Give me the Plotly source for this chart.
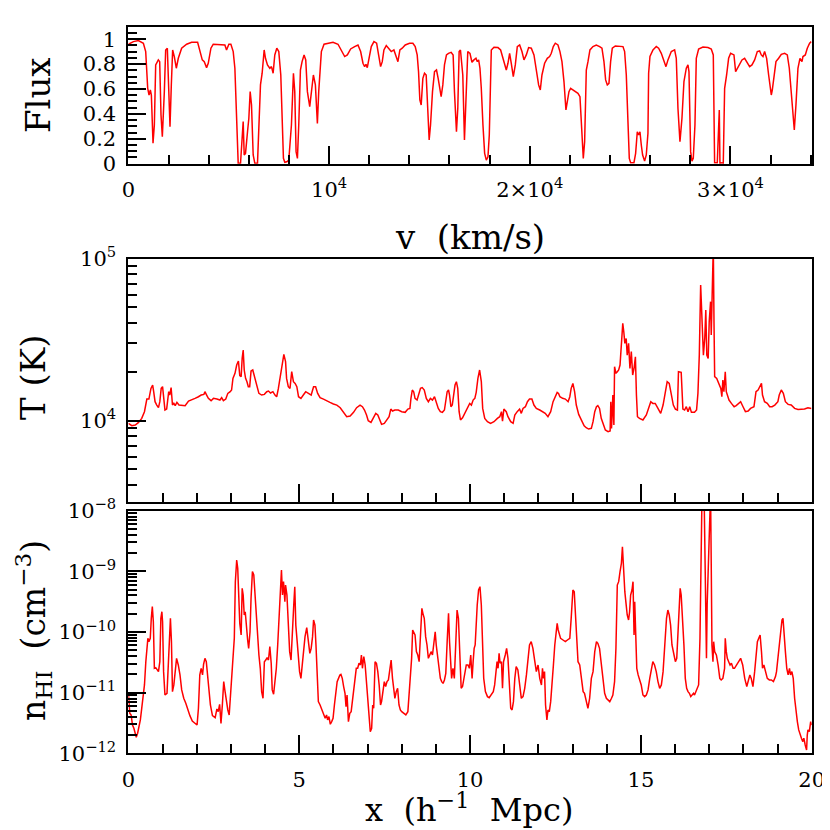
import plotly.graph_objects as go

# ---------------- data: transmitted flux vs velocity ----------------
V_KMS = [
    0, 83, 249, 497, 746, 862, 962, 1028, 1094, 1144,
    1227, 1293, 1360, 1492, 1559, 1625, 1691, 1791, 1857, 1940,
    1990, 2073, 2139, 2205, 2288, 2388, 2487, 2653, 2902, 3150,
    3449, 3565, 3681, 3780, 3896, 3979, 4112, 4228, 4477, 4676,
    4808, 4891, 5007, 5107, 5223, 5306, 5389, 5471, 5587, 5670,
    5720, 5770, 5836, 5936, 6002, 6068, 6135, 6218, 6300, 6433,
    6499, 6582, 6665, 6765, 6831, 6930, 7047, 7129, 7212, 7295,
    7395, 7494, 7594, 7660, 7726, 7793, 7892, 7992, 8124, 8224,
    8290, 8356, 8423, 8489, 8572, 8655, 8754, 8837, 8920, 9036,
    9119, 9218, 9318, 9417, 9484, 9616, 9749, 9948, 10197, 10445,
    10611, 10777, 10910, 11075, 11274, 11440, 11573, 11689, 11772, 11838,
    11904, 12004, 12103, 12236, 12369, 12468, 12568, 12651, 12733, 12850,
    12966, 13098, 13231, 13347, 13430, 13529, 13645, 13795, 14010, 14176,
    14292, 14391, 14458, 14524, 14590, 14673, 14756, 14839, 14905, 14988,
    15055, 15154, 15254, 15353, 15436, 15502, 15585, 15668, 15751, 15850,
    15950, 16083, 16182, 16248, 16348, 16414, 16481, 16547, 16663, 16746,
    16829, 16912, 17021, 17120, 17220, 17320, 17386, 17453, 17519, 17585,
    17668, 17752, 17835, 17918, 17984, 18034, 18084, 18217, 18416, 18549,
    18615, 18715, 18831, 18914, 18997, 19080, 19180, 19280, 19379, 19496,
    19612, 19712, 19828, 19944, 20077, 20210, 20326, 20442, 20525, 20608,
    20741, 20874, 20990, 21074, 21173, 21273, 21406, 21505, 21605, 21705,
    21804, 21871, 21954, 22037, 22153, 22270, 22402, 22502, 22568, 22618,
    22668, 22735, 22818, 22901, 23000, 23150, 23316, 23482, 23598, 23698,
    23781, 23864, 23947, 24030, 24113, 24263, 24479, 24645, 24728, 24811,
    24894, 24960, 25027, 25193, 25276, 25359, 25425, 25492, 25558, 25625,
    25724, 25807, 25890, 25924, 25990, 26140, 26306, 26422, 26555, 26688,
    26788, 26887, 27053, 27219, 27302, 27385, 27485, 27585, 27684, 27801,
    27884, 27934, 28017, 28083, 28149, 28232, 28299, 28415, 28631, 28880,
    29046, 29146, 29179, 29212, 29345, 29412, 29445, 29478, 29578, 29644,
    29711, 29810, 29910, 30010, 30176, 30259, 30342, 30458, 30575, 30707,
    30840, 30957, 31073, 31206, 31339, 31455, 31538, 31621, 31704, 31804,
    31904, 31970, 32036, 32086, 32169, 32269, 32402, 32535, 32701, 32834,
    32934, 33033, 33116, 33183, 33265, 33365, 33465, 33565, 33614, 33731,
    33830, 33947, 34030,
]
FLUX = [
    0.960, 0.968, 0.981, 0.989, 0.968, 0.901, 0.606, 0.552, 0.592, 0.552,
    0.164, 0.311, 0.794, 0.834, 0.820, 0.391, 0.217, 0.579, 0.914, 0.928,
    0.713, 0.298, 0.633, 0.914, 0.861, 0.767, 0.847, 0.928, 0.960, 0.976,
    0.976, 0.901, 0.834, 0.820, 0.772, 0.807, 0.928, 0.960, 0.960, 0.954,
    0.954, 0.914, 0.960, 0.960, 0.901, 0.767, 0.445, 0.003, 0.003, 0.231,
    0.338, 0.070, 0.083, 0.257, 0.365, 0.579, 0.472, 0.070, 0.003, 0.003,
    0.311, 0.633, 0.727, 0.914, 0.847, 0.794, 0.767, 0.780, 0.727, 0.874,
    0.928, 0.901, 0.713, 0.445, 0.043, 0.011, 0.016, 0.029, 0.311, 0.727,
    0.579, 0.097, 0.043, 0.311, 0.753, 0.820, 0.874, 0.834, 0.579, 0.458,
    0.579, 0.713, 0.633, 0.324, 0.579, 0.901, 0.960, 0.968, 0.976, 0.960,
    0.914, 0.861, 0.874, 0.922, 0.941, 0.954, 0.901, 0.807, 0.780, 0.799,
    0.772, 0.847, 0.941, 0.981, 0.968, 0.874, 0.780, 0.820, 0.914, 0.949,
    0.928, 0.901, 0.914, 0.847, 0.820, 0.914, 0.928, 0.954, 0.968, 0.968,
    0.941, 0.874, 0.740, 0.512, 0.472, 0.686, 0.727, 0.713, 0.418, 0.190,
    0.311, 0.579, 0.740, 0.753, 0.686, 0.633, 0.539, 0.633, 0.794, 0.874,
    0.887, 0.895, 0.874, 0.579, 0.257, 0.445, 0.901, 0.914, 0.713, 0.190,
    0.499, 0.901, 0.887, 0.815, 0.834, 0.847, 0.820, 0.834, 0.767, 0.606,
    0.311, 0.083, 0.029, 0.056, 0.231, 0.713, 0.914, 0.936, 0.933, 0.914,
    0.874, 0.820, 0.753, 0.807, 0.887, 0.807, 0.700, 0.794, 0.941, 0.954,
    0.901, 0.834, 0.874, 0.933, 0.928, 0.874, 0.767, 0.633, 0.592, 0.713,
    0.807, 0.847, 0.861, 0.887, 0.941, 0.968, 0.954, 0.901, 0.820, 0.660,
    0.432, 0.485, 0.579, 0.606, 0.592, 0.579, 0.566, 0.539, 0.311, 0.097,
    0.043, 0.177, 0.753, 0.820, 0.914, 0.941, 0.954, 0.941, 0.928, 0.820,
    0.673, 0.633, 0.646, 0.820, 0.928, 0.946, 0.946, 0.941, 0.901, 0.713,
    0.338, 0.043, 0.008, 0.008, 0.083, 0.257, 0.231, 0.257, 0.150, 0.070,
    0.021, 0.070, 0.244, 0.727, 0.861, 0.914, 0.941, 0.928, 0.887, 0.820,
    0.780, 0.834, 0.901, 0.914, 0.847, 0.445, 0.177, 0.365, 0.660, 0.767,
    0.794, 0.740, 0.097, 0.021, 0.043, 0.311, 0.847, 0.922, 0.938, 0.933,
    0.922, 0.874, 0.445, 0.008, 0.008, 0.311, 0.432, 0.003, 0.008, 0.003,
    0.606, 0.713, 0.847, 0.887, 0.874, 0.740, 0.767, 0.807, 0.834, 0.847,
    0.807, 0.780, 0.794, 0.834, 0.901, 0.906, 0.874, 0.861, 0.901, 0.847,
    0.713, 0.606, 0.552, 0.592, 0.713, 0.820, 0.847, 0.879, 0.887, 0.874,
    0.767, 0.579, 0.391, 0.271, 0.472, 0.767, 0.847, 0.820, 0.861, 0.874,
    0.928, 0.968, 0.981,
]

# ---------------- data: temperature vs comoving position ----------------
X_T = [
    0.00, 0.10, 0.20, 0.29, 0.39, 0.47, 0.54, 0.60, 0.66, 0.71,
    0.74, 0.78, 0.83, 0.88, 0.92, 0.96, 1.00, 1.04, 1.07, 1.12,
    1.15, 1.18, 1.21, 1.25, 1.29, 1.33, 1.37, 1.42, 1.48, 1.56,
    1.66, 1.76, 1.85, 1.95, 2.05, 2.13, 2.21, 2.24, 2.29, 2.34,
    2.42, 2.49, 2.59, 2.68, 2.73, 2.78, 2.85, 2.91, 2.98, 3.02,
    3.06, 3.12, 3.17, 3.22, 3.26, 3.30, 3.33, 3.36, 3.39, 3.43,
    3.47, 3.51, 3.55, 3.59, 3.64, 3.69, 3.74, 3.79, 3.82, 3.90,
    3.98, 4.05, 4.10, 4.16, 4.23, 4.29, 4.34, 4.39, 4.44, 4.49,
    4.55, 4.60, 4.63, 4.68, 4.73, 4.78, 4.83, 4.88, 4.93, 4.98,
    5.05, 5.12, 5.19, 5.27, 5.35, 5.42, 5.48, 5.54, 5.61, 5.71,
    5.80, 5.90, 6.00, 6.10, 6.20, 6.29, 6.39, 6.49, 6.59, 6.68,
    6.78, 6.85, 6.91, 6.97, 7.02, 7.10, 7.17, 7.24, 7.30, 7.35,
    7.41, 7.49, 7.56, 7.63, 7.68, 7.73, 7.80, 7.90, 8.00, 8.10,
    8.18, 8.24, 8.27, 8.31, 8.35, 8.39, 8.45, 8.50, 8.55, 8.60,
    8.66, 8.72, 8.78, 8.84, 8.90, 8.96, 9.01, 9.07, 9.13, 9.19,
    9.25, 9.29, 9.33, 9.37, 9.40, 9.44, 9.48, 9.52, 9.56, 9.60,
    9.64, 9.68, 9.72, 9.78, 9.83, 9.90, 9.95, 9.99, 10.04, 10.09,
    10.14, 10.18, 10.23, 10.28, 10.33, 10.37, 10.43, 10.51, 10.60, 10.70,
    10.80, 10.87, 10.92, 10.95, 10.99, 11.06, 11.11, 11.19, 11.26, 11.31,
    11.38, 11.45, 11.50, 11.55, 11.62, 11.68, 11.74, 11.81, 11.87, 11.94,
    12.04, 12.14, 12.20, 12.28, 12.36, 12.43, 12.50, 12.55, 12.59, 12.63,
    12.71, 12.79, 12.87, 12.92, 12.96, 13.01, 13.06, 13.11, 13.18, 13.26,
    13.34, 13.40, 13.47, 13.55, 13.60, 13.65, 13.70, 13.74, 13.79, 13.84,
    13.90, 13.96, 14.04, 14.10, 14.12, 14.14, 14.15, 14.18, 14.21, 14.23,
    14.27, 14.31, 14.35, 14.39, 14.43, 14.47, 14.50, 14.53, 14.57, 14.60,
    14.64, 14.68, 14.72, 14.76, 14.80, 14.84, 14.87, 14.90, 14.96, 15.06,
    15.16, 15.23, 15.29, 15.35, 15.42, 15.50, 15.58, 15.65, 15.72, 15.77,
    15.83, 15.89, 15.95, 16.01, 16.07, 16.10, 16.15, 16.18, 16.23, 16.28,
    16.33, 16.38, 16.43, 16.48, 16.57, 16.63, 16.67, 16.71, 16.75, 16.79,
    16.83, 16.87, 16.90, 16.93, 16.97, 17.00, 17.04, 17.06, 17.09, 17.12,
    17.14, 17.16, 17.22, 17.28, 17.34, 17.37, 17.40, 17.43, 17.47, 17.50,
    17.53, 17.58, 17.65, 17.73, 17.79, 17.86, 17.92, 17.99, 18.06, 18.14,
    18.21, 18.31, 18.37, 18.43, 18.49, 18.53, 18.56, 18.62, 18.70, 18.77,
    18.84, 18.92, 19.01, 19.05, 19.11, 19.17, 19.23, 19.31, 19.40, 19.50,
    19.60, 19.70, 19.79, 19.89, 19.99,
]
T_K = [
    9630, 9310, 9400, 9720, 10340, 11370, 13600, 13600, 15830, 16600,
    15100, 13100, 12490, 12030, 13100, 15830, 16220, 13100, 11640, 11800,
    13100, 15100, 14400, 16000, 12490, 12790, 12380, 12970, 12490, 12490,
    12380, 13230, 13410, 13740, 14060, 14400, 14540, 15100, 14400, 13740,
    13290, 13740, 13600, 13410, 13870, 13290, 13600, 14750, 15100, 15470,
    18250, 19590, 22060, 23350, 18960, 18690, 24230, 27310, 20550, 18250,
    17410, 16220, 16220, 20250, 20550, 18690, 17000, 15470, 14750, 14400,
    14540, 15100, 15250, 14820, 15100, 14400, 14060, 15830, 18690, 22060,
    25670, 23130, 18250, 16220, 15830, 20070, 17410, 17000, 16220, 14060,
    13740, 14400, 15100, 14750, 14400, 16220, 16220, 14750, 13870, 13600,
    13230, 12970, 12680, 12490, 12030, 11370, 10580, 10680, 11260, 12030,
    12490, 12200, 11640, 10840, 10000, 9770, 10340, 11100, 10840, 10100,
    9490, 9630, 10100, 10580, 11800, 11470, 11640, 11640, 11370, 11260,
    11800, 11910, 13740, 15470, 15100, 13740, 13410, 14400, 15830, 16000,
    15470, 13740, 13100, 13740, 13410, 14060, 13100, 11910, 11370, 11260,
    11640, 13100, 15100, 15470, 14400, 12200, 12490, 14400, 16600, 17410,
    15830, 11370, 10100, 10430, 10940, 11800, 12490, 12790, 12490, 13410,
    13740, 14960, 18250, 20550, 17410, 11910, 10340, 9860, 9630, 9860,
    10340, 10580, 11370, 9950, 11800, 11370, 10580, 9860, 9630, 10840,
    11370, 11800, 11100, 11910, 12200, 13100, 13600, 13600, 12490, 11910,
    11640, 11370, 11100, 10580, 11370, 13100, 14400, 14960, 14750, 14060,
    13740, 13600, 13100, 14060, 15830, 17000, 15100, 12490, 10940, 10100,
    9310, 9050, 8880, 8970, 9860, 11370, 12200, 12380, 11910, 10340,
    9400, 8760, 8550, 8640, 13100, 8970, 9860, 14400, 9400, 21540,
    19590, 20070, 20550, 22060, 28640, 39900, 35400, 30000, 32200, 25400,
    30000, 21000, 26700, 19130, 21000, 24800, 14400, 10580, 10340, 10100,
    10840, 12200, 13100, 12790, 12790, 11910, 11100, 12490, 15830, 17410,
    17000, 14400, 12490, 11800, 11640, 20070, 20070, 19890, 11800, 11640,
    12200, 11370, 12200, 11260, 11260, 11640, 14750, 25400, 68700, 40800,
    25400, 32200, 48200, 25400, 24230, 40800, 54300, 33800, 61100, 120000,
    40800, 18690, 18250, 17000, 15830, 14060, 17830, 15100, 20070, 15100,
    14400, 13410, 12790, 12200, 12380, 12790, 13100, 12200, 11370, 11470,
    11910, 12200, 15100, 15470, 16600, 17000, 14400, 13100, 12790, 12200,
    12200, 12490, 13100, 14400, 15470, 14750, 13100, 12610, 12490, 11910,
    11740, 11800, 11800, 12030, 11910,
]

# ---------------- data: neutral hydrogen density vs position ----------------
X_N = [
    0.00, 0.04, 0.08, 0.12, 0.16, 0.20, 0.23, 0.27, 0.31, 0.35,
    0.39, 0.43, 0.47, 0.51, 0.54, 0.57, 0.60, 0.64, 0.67, 0.70,
    0.73, 0.76, 0.80, 0.84, 0.88, 0.92, 0.95, 0.98, 1.00, 1.03,
    1.07, 1.13, 1.17, 1.20, 1.23, 1.26, 1.29, 1.33, 1.37, 1.41,
    1.46, 1.51, 1.56, 1.62, 1.68, 1.74, 1.80, 1.87, 1.95, 2.01,
    2.05, 2.09, 2.13, 2.17, 2.20, 2.24, 2.28, 2.32, 2.36, 2.40,
    2.46, 2.54, 2.59, 2.63, 2.67, 2.71, 2.75, 2.79, 2.83, 2.87,
    2.91, 2.95, 2.98, 3.02, 3.06, 3.10, 3.13, 3.17, 3.20, 3.23,
    3.26, 3.30, 3.33, 3.36, 3.39, 3.42, 3.46, 3.49, 3.52, 3.56,
    3.59, 3.63, 3.67, 3.71, 3.75, 3.79, 3.82, 3.86, 3.90, 3.94,
    3.98, 4.02, 4.06, 4.10, 4.14, 4.18, 4.21, 4.25, 4.29, 4.33,
    4.37, 4.41, 4.45, 4.48, 4.51, 4.54, 4.58, 4.60, 4.64, 4.68,
    4.72, 4.76, 4.80, 4.84, 4.87, 4.90, 4.94, 4.98, 5.01, 5.05,
    5.09, 5.13, 5.17, 5.22, 5.26, 5.31, 5.35, 5.39, 5.42, 5.46,
    5.49, 5.52, 5.56, 5.61, 5.66, 5.72, 5.76, 5.80, 5.83, 5.87,
    5.91, 5.95, 5.99, 6.03, 6.07, 6.11, 6.15, 6.19, 6.22, 6.26,
    6.30, 6.34, 6.37, 6.40, 6.44, 6.48, 6.52, 6.56, 6.60, 6.63,
    6.67, 6.71, 6.75, 6.79, 6.82, 6.85, 6.89, 6.93, 6.97, 7.00,
    7.04, 7.08, 7.12, 7.15, 7.18, 7.22, 7.26, 7.30, 7.34, 7.38,
    7.41, 7.45, 7.49, 7.53, 7.57, 7.61, 7.65, 7.69, 7.73, 7.77,
    7.80, 7.84, 7.88, 7.92, 7.96, 8.00, 8.06, 8.12, 8.18, 8.21,
    8.25, 8.29, 8.32, 8.35, 8.39, 8.43, 8.47, 8.51, 8.55, 8.59,
    8.62, 8.66, 8.70, 8.74, 8.78, 8.82, 8.86, 8.90, 8.94, 8.98,
    9.01, 9.05, 9.09, 9.13, 9.17, 9.21, 9.25, 9.29, 9.33, 9.37,
    9.40, 9.42, 9.46, 9.50, 9.54, 9.58, 9.62, 9.66, 9.70, 9.74,
    9.78, 9.81, 9.85, 9.89, 9.94, 9.98, 10.02, 10.06, 10.09, 10.12,
    10.15, 10.18, 10.21, 10.25, 10.29, 10.33, 10.36, 10.40, 10.45, 10.51,
    10.56, 10.62, 10.68, 10.72, 10.76, 10.79, 10.82, 10.85, 10.88, 10.92,
    10.95, 10.98, 11.03, 11.07, 11.11, 11.15, 11.19, 11.23, 11.27, 11.31,
    11.35, 11.40, 11.45, 11.50, 11.55, 11.60, 11.65, 11.70, 11.74, 11.79,
    11.84, 11.89, 11.94, 11.99, 12.04, 12.09, 12.12, 12.15, 12.18, 12.21,
    12.25, 12.28, 12.32, 12.36, 12.40, 12.44, 12.48, 12.52, 12.55, 12.58,
    12.61, 12.65, 12.72, 12.79, 12.85, 12.92, 12.96, 13.01, 13.05, 13.08,
    13.12, 13.16, 13.21, 13.26, 13.31, 13.35, 13.40, 13.45, 13.50, 13.55,
    13.60, 13.65, 13.70, 13.74, 13.79, 13.84, 13.89, 13.94, 13.99, 14.04,
    14.09, 14.14, 14.18, 14.23, 14.27, 14.31, 14.35, 14.39, 14.43, 14.46,
    14.49, 14.53, 14.56, 14.60, 14.64, 14.67, 14.70, 14.74, 14.77, 14.80,
    14.82, 14.85, 14.88, 14.92, 14.96, 15.01, 15.06, 15.11, 15.16, 15.21,
    15.26, 15.31, 15.35, 15.40, 15.45, 15.50, 15.55, 15.60, 15.65, 15.70,
    15.75, 15.79, 15.83, 15.87, 15.91, 15.97, 16.01, 16.05, 16.09, 16.13,
    16.15, 16.18, 16.22, 16.26, 16.30, 16.34, 16.38, 16.42, 16.46, 16.50,
    16.54, 16.57, 16.61, 16.65, 16.69, 16.73, 16.76, 16.79, 16.85, 16.89,
    16.92, 16.94, 16.98, 17.01, 17.04, 17.06, 17.08, 17.11, 17.13, 17.16,
    17.21, 17.26, 17.31, 17.35, 17.40, 17.45, 17.47, 17.50, 17.53, 17.57,
    17.61, 17.65, 17.70, 17.74, 17.80, 17.86, 17.92, 17.98, 18.04, 18.10,
    18.15, 18.19, 18.23, 18.28, 18.33, 18.37, 18.41, 18.45, 18.49, 18.53,
    18.56, 18.60, 18.64, 18.70, 18.76, 18.82, 18.88, 18.94, 18.97, 19.01,
    19.05, 19.09, 19.13, 19.16, 19.19, 19.23, 19.27, 19.31, 19.35, 19.38,
    19.42, 19.46, 19.50, 19.54, 19.58, 19.62, 19.66, 19.70, 19.74, 19.77,
    19.81, 19.85, 19.87, 19.89, 19.93, 19.97, 20.00,
]
N_HI = [
    9.8e-12, 4.57e-12, 4.29e-12, 2.93e-12, 2.58e-12, 2.00e-12, 1.84e-12, 2.14e-12, 2.75e-12, 3.55e-12,
    5.52e-12, 8.07e-12, 1.34e-11, 3.24e-11, 6.50e-11, 7.86e-11, 6.93e-11, 7.86e-11, 1.68e-10, 2.62e-10,
    1.48e-10, 2.52e-11, 2.58e-11, 2.36e-11, 2.22e-11, 3.24e-11, 1.68e-10, 2.16e-10, 1.48e-10, 2.22e-11,
    9.15e-12, 9.75e-12, 3.24e-11, 1.30e-10, 1.68e-10, 6.93e-11, 1.04e-11, 1.34e-11, 2.52e-11, 3.68e-11,
    2.86e-11, 1.96e-11, 1.11e-11, 8.07e-12, 6.67e-12, 5.18e-12, 4.18e-12, 3.41e-12, 3.12e-12, 2.93e-12,
    5.52e-12, 1.96e-11, 2.52e-11, 1.96e-11, 2.93e-11, 3.68e-11, 3.24e-11, 1.72e-11, 1.04e-11, 6.26e-12,
    4.18e-12, 3.87e-12, 5.38e-12, 4.86e-12, 6.42e-12, 3.12e-12, 6.26e-12, 1.52e-11, 1.04e-11, 7.11e-12,
    5.18e-12, 4.29e-12, 8.07e-12, 1.96e-11, 3.59e-11, 7.86e-11, 6.76e-10, 1.54e-9, 1.12e-9, 2.79e-10,
    1.39e-10, 8.92e-11, 5.24e-10, 4.07e-10, 1.91e-10, 2.16e-10, 1.01e-10, 7.38e-11, 5.38e-11, 1.01e-10,
    3.59e-10, 9.9e-10, 8.70e-10, 3.59e-10, 1.48e-10, 6.93e-11, 4.18e-11, 2.52e-11, 1.04e-11, 8.07e-12,
    3.24e-11, 3.45e-11, 3.78e-11, 3.45e-11, 5.73e-11, 3.05e-11, 1.11e-11, 9.4e-12, 1.62e-11, 2.52e-11,
    6.11e-11, 1.48e-10, 4.62e-10, 1.05e-9, 4.07e-10, 6.76e-10, 3.16e-10, 5.95e-10, 4.07e-10, 1.15e-10,
    4.74e-11, 3.45e-11, 7.86e-11, 2.79e-10, 5.59e-10, 1.30e-10, 6.93e-11, 3.24e-11, 2.22e-11, 1.72e-11,
    3.24e-11, 6.11e-11, 8.38e-11, 1.18e-10, 7.86e-11, 4.45e-11, 5.38e-11, 8.38e-11, 1.58e-10, 1.30e-10,
    6.11e-11, 2.52e-11, 7.11e-12, 6.26e-12, 5.38e-12, 4.57e-12, 3.78e-12, 4.29e-12, 3.55e-12, 4.02e-12,
    3.01e-12, 3.33e-12, 3.78e-12, 6.26e-12, 1.11e-11, 1.52e-11, 1.72e-11, 1.96e-11, 2.00e-11, 1.72e-11,
    1.26e-11, 9.75e-12, 5.88e-12, 9.15e-12, 3.33e-12, 4.57e-12, 4.86e-12, 7.58e-12, 1.34e-11, 1.96e-11,
    2.52e-11, 2.52e-11, 3.05e-11, 2.86e-11, 4.18e-11, 2.52e-11, 3.92e-11, 2.86e-11, 1.34e-11, 7.11e-12,
    3.33e-12, 2.28e-12, 2.58e-12, 6.26e-12, 5.52e-12, 3.24e-11, 3.05e-11, 2.22e-11, 1.34e-11, 6.26e-12,
    7.11e-12, 1.04e-11, 1.52e-11, 1.26e-11, 1.52e-11, 1.62e-11, 2.22e-11, 3.45e-11, 1.72e-11, 1.04e-11,
    8.07e-12, 1.04e-11, 1.18e-11, 6.26e-12, 5.18e-12, 4.86e-12, 4.57e-12, 4.29e-12, 4.86e-12, 8.60e-12,
    1.26e-11, 3.68e-11, 1.08e-10, 1.01e-10, 8.92e-11, 4.74e-11, 4.18e-11, 3.24e-11, 7.86e-11, 2.46e-10,
    2.03e-10, 1.68e-10, 8.38e-11, 6.11e-11, 3.68e-11, 4.18e-11, 4.74e-11, 4.18e-11, 6.11e-11, 1.01e-10,
    6.11e-11, 3.68e-11, 2.52e-11, 1.72e-11, 1.52e-11, 1.42e-11, 1.62e-11, 2.08e-11, 6.93e-11, 2.03e-10,
    6.93e-11, 3.68e-11, 1.72e-11, 2.52e-11, 1.72e-11, 6.11e-11, 2.30e-10, 1.68e-10, 3.68e-11, 1.18e-11,
    1.26e-11, 1.52e-11, 2.08e-11, 2.86e-11, 2.86e-11, 2.52e-11, 4.18e-11, 1.72e-11, 3.24e-11, 5.38e-11,
    6.11e-11, 1.68e-10, 2.79e-10, 4.92e-10, 5.59e-10, 2.79e-10, 7.86e-11, 1.72e-11, 1.04e-11, 8.60e-12,
    8.27e-12, 9.15e-12, 1.04e-11, 1.34e-11, 2.08e-11, 3.24e-11, 2.52e-11, 4.45e-11, 3.05e-11, 3.24e-11,
    1.18e-11, 3.24e-11, 4.18e-11, 5.38e-11, 3.68e-11, 1.34e-11, 5.52e-12, 5.18e-12, 7.11e-12, 1.72e-11,
    2.68e-11, 2.36e-11, 1.52e-11, 8.07e-12, 8.60e-12, 1.18e-11, 1.96e-11, 3.68e-11, 6.11e-11, 6.93e-11,
    5.38e-11, 3.45e-11, 2.22e-11, 2.86e-11, 1.72e-11, 1.34e-11, 2.52e-11, 1.72e-11, 2.22e-11, 6.26e-12,
    3.55e-12, 5.18e-12, 4.86e-12, 7.11e-12, 1.72e-11, 2.86e-11, 6.11e-11, 9.5e-11, 1.39e-10, 1.08e-10,
    9.5e-11, 7.86e-11, 7.38e-11, 6.93e-11, 7.38e-11, 7.86e-11, 1.68e-10, 4.92e-10, 4.62e-10, 1.91e-10,
    6.11e-11, 3.24e-11, 2.86e-11, 1.72e-11, 1.04e-11, 9.75e-12, 7.11e-12, 5.52e-12, 8.07e-12, 1.72e-11,
    2.22e-11, 4.74e-11, 6.93e-11, 6.50e-11, 5.38e-11, 3.24e-11, 1.72e-11, 9.75e-12, 8.07e-12, 7.58e-12,
    7.11e-12, 8.07e-12, 9.15e-12, 1.52e-11, 5.38e-11, 5.95e-10, 6.76e-10, 9.9e-10, 1.36e-9, 2.55e-9,
    9.9e-10, 4.62e-10, 3.16e-10, 1.91e-10, 1.58e-10, 2.16e-10, 4.07e-10, 4.92e-10, 6.76e-10, 8.92e-11,
    3.16e-10, 7.86e-11, 2.52e-11, 1.96e-11, 1.62e-11, 1.34e-11, 9.15e-12, 8.60e-12, 9.15e-12, 1.11e-11,
    1.72e-11, 2.52e-11, 3.24e-11, 2.86e-11, 2.22e-11, 1.52e-11, 1.18e-11, 1.34e-11, 2.22e-11, 6.11e-11,
    1.68e-10, 2.30e-10, 1.91e-10, 1.30e-10, 6.11e-11, 4.18e-11, 3.24e-11, 3.68e-11, 1.15e-10, 3.16e-10,
    5.24e-10, 4.07e-10, 1.68e-10, 6.11e-11, 1.72e-11, 1.18e-11, 1.04e-11, 9.75e-12, 8.60e-12, 9.15e-12,
    9.75e-12, 9.15e-12, 1.04e-11, 1.18e-11, 1.34e-11, 7.86e-11, 9.9e-10, 2e-8, 2e-8, 2.79e-10,
    3.68e-11, 2.79e-10, 1.86e-9, 2e-8, 2e-8, 1.27e-9, 6.11e-11, 3.24e-11, 6.93e-11, 4.74e-11,
    4.18e-11, 2.86e-11, 1.72e-11, 1.62e-11, 1.72e-11, 2.52e-11, 7.86e-11, 4.74e-11, 3.68e-11, 3.24e-11,
    2.86e-11, 3.05e-11, 2.52e-11, 2.52e-11, 2.86e-11, 3.24e-11, 3.68e-11, 2.86e-11, 1.72e-11, 1.26e-11,
    1.72e-11, 1.96e-11, 1.72e-11, 1.26e-11, 2.22e-11, 4.74e-11, 6.93e-11, 7.86e-11, 8.92e-11, 4.74e-11,
    2.52e-11, 2.86e-11, 2.22e-11, 1.72e-11, 1.62e-11, 1.62e-11, 1.52e-11, 1.84e-11, 2.22e-11, 3.68e-11,
    6.11e-11, 1.15e-10, 1.58e-10, 1.68e-10, 7.86e-11, 4.74e-11, 2.52e-11, 1.96e-11, 2.52e-11, 1.96e-11,
    2.22e-11, 1.72e-11, 8.07e-12, 4.86e-12, 3.33e-12, 2.43e-12, 2.00e-12, 1.77e-12, 1.56e-12, 1.77e-12,
    1.37e-12, 1.13e-12, 2.00e-12, 2.43e-12, 2.28e-12, 3.33e-12, 2.93e-12,
]

# ---------------- tick labels ----------------
V_TICKS = [0, 10000, 20000, 30000]
V_TICKTEXT = ["0", "10<sup>4</sup>", "2×10<sup>4</sup>", "3×10<sup>4</sup>"]
FLUX_TICKS = [0, 0.2, 0.4, 0.6, 0.8, 1.0]
FLUX_TICKTEXT = ["0", "0.2", "0.4", "0.6", "0.8", "1"]
X_TICKS = [0, 5, 10, 15, 20]
X_TICKTEXT = ["0", "5", "10", "15", "20"]
T_TICKS = [1e4, 1e5]
T_TICKTEXT = ["10<sup>4</sup>", "10<sup>5</sup>"]
N_TICKS = [1e-12, 1e-11, 1e-10, 1e-9, 1e-8]
N_TICKTEXT = ["10<sup>−12</sup>", "10<sup>−11</sup>", "10<sup>−10</sup>",
              "10<sup>−9</sup>", "10<sup>−8</sup>"]

# ---------------- layout geometry (pixels in the 830x830 window) ----------------
W = H = 830
OFF = 8            # page body margin that shifts the figure inside the window
FONT = "DejaVu Serif"
RED = "#ff0000"
L, R = 128.4, 811.7


def fx(p):
    return (p - OFF) / W


def fy(p):
    return 1 - (p - OFF) / H


def dom_x():
    return [fx(L), fx(R)]


def dom_y(top, bottom):
    return [fy(bottom), fy(top)]


def log_minor(lo_exp, hi_exp):
    return [k * 10.0 ** e for e in range(lo_exp, hi_exp) for k in range(2, 10)]


base = dict(
    showline=True, linecolor="black", linewidth=2, mirror=True,
    ticks="inside", tickcolor="black", tickwidth=2, ticklen=18,
    showgrid=False, zeroline=False, automargin=False,
    tickfont=dict(family=FONT, size=21, color="black"),
)
minor_base = dict(ticks="inside", ticklen=9, tickwidth=2, tickcolor="black", showgrid=False)

fig = go.Figure()
line = dict(color=RED, width=1.5)
fig.add_trace(go.Scatter(x=V_KMS, y=FLUX, mode="lines", line=line, xaxis="x", yaxis="y", showlegend=False))
fig.add_trace(go.Scatter(x=X_T, y=T_K, mode="lines", line=line, xaxis="x2", yaxis="y2", showlegend=False))
fig.add_trace(go.Scatter(x=X_N, y=N_HI, mode="lines", line=line, xaxis="x3", yaxis="y3", showlegend=False))

fig.update_layout(
    template="none",
    width=W, height=H, margin=dict(l=0, r=0, t=0, b=0, autoexpand=False),
    paper_bgcolor="white", plot_bgcolor="white", showlegend=False,
    xaxis=dict(base, domain=dom_x(), anchor="y", range=[0, 34050],
               tickmode="array", tickvals=V_TICKS, ticktext=V_TICKTEXT, ticklabelstandoff=6,
               minor=dict(minor_base, tickmode="linear", tick0=0, dtick=2000)),
    yaxis=dict(base, domain=dom_y(27.3, 163.7), anchor="x", range=[0, 1.096],
               tickmode="array", tickvals=FLUX_TICKS, ticktext=FLUX_TICKTEXT, ticklabelstandoff=6,
               minor=dict(minor_base, tickmode="linear", tick0=0, dtick=0.05)),
    xaxis2=dict(base, domain=dom_x(), anchor="y2", range=[0, 20],
                tickmode="array", tickvals=X_TICKS, showticklabels=False,
                minor=dict(minor_base, tickmode="linear", tick0=0, dtick=1)),
    yaxis2=dict(base, domain=dom_y(258.7, 501.7), anchor="x2", type="log", range=[3.5, 5],
                tickmode="array", tickvals=T_TICKS, ticktext=T_TICKTEXT, ticklabelstandoff=6,
                minor=dict(minor_base, tickmode="array", tickvals=log_minor(3, 5))),
    xaxis3=dict(base, domain=dom_x(), anchor="y3", range=[0, 20],
                tickmode="array", tickvals=X_TICKS, ticktext=X_TICKTEXT, ticklabelstandoff=6,
                minor=dict(minor_base, tickmode="linear", tick0=0, dtick=1)),
    yaxis3=dict(base, domain=dom_y(510.7, 753.3), anchor="x3", type="log", range=[-12, -8],
                tickmode="array", tickvals=N_TICKS, ticktext=N_TICKTEXT, ticklabelstandoff=6,
                minor=dict(minor_base, tickmode="array", tickvals=log_minor(-12, -8))),
)

title_font = dict(family=FONT, size=34, color="black")
titles = [
    ("Flux", 38, 95, -90, 34),
    ("v\u00a0\u00a0(km/s)", 470, 237, 0, 34),
    ("T\u00a0(K)", 33, 378, -90, 34),
    ("n<sub>HI</sub>\u00a0\u00a0(cm<sup>−3</sup>)", 33, 631, -90, 33),
    ("x\u00a0\u00a0(h<sup>−1</sup>\u00a0\u00a0Mpc)", 469, 808, 0, 32),
]
for text, cx, cy, ang, size in titles:
    fig.add_annotation(text=text, x=fx(cx), y=fy(cy), xref="paper", yref="paper",
                       xanchor="center", yanchor="middle", showarrow=False,
                       textangle=ang, font=dict(title_font, size=size))

fig.write_html("out.html")
